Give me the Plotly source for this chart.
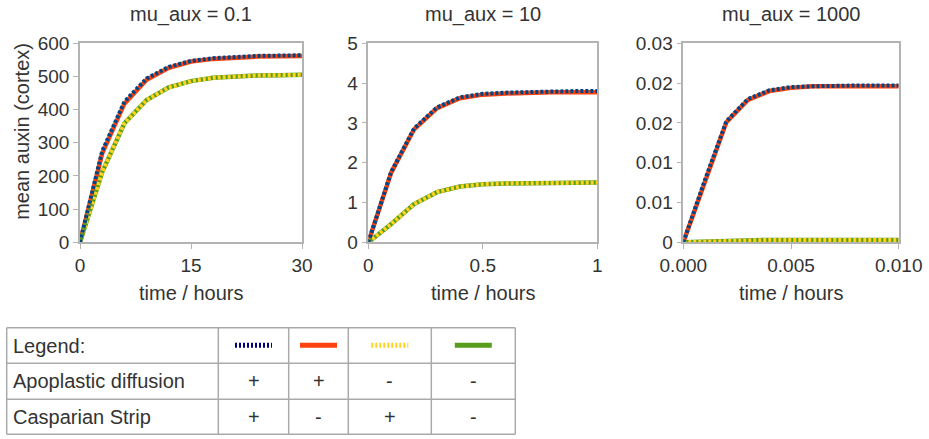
import plotly.graph_objects as go

W, H = 929, 439

# ---- data ----
t1 = [0, 3, 6, 9, 12, 15, 18, 21, 24, 27, 30]
blue1 = [0, 275, 424, 494, 529, 547, 555, 560, 562, 563, 564]
red1 = [0, 268, 418, 490, 526, 545, 553, 558, 560, 561, 562]
yellow1 = [0, 212, 359, 429, 467, 486, 496, 501, 503, 504, 505]
green1 = [0, 212, 359, 429, 467, 486, 496, 501, 503, 504, 505]

t2 = [0, 0.1, 0.2, 0.3, 0.4, 0.5, 0.6, 0.7, 0.8, 0.9, 1.0]
blue2 = [0, 1.77, 2.86, 3.39, 3.64, 3.73, 3.76, 3.78, 3.79, 3.80, 3.80]
red2 = [0, 1.75, 2.84, 3.37, 3.62, 3.71, 3.74, 3.76, 3.77, 3.77, 3.77]
yellow2 = [0, 0.46, 0.96, 1.26, 1.40, 1.46, 1.48, 1.49, 1.50, 1.50, 1.50]
green2 = [0, 0.46, 0.96, 1.26, 1.40, 1.46, 1.48, 1.49, 1.50, 1.50, 1.50]

t3 = [0, 0.001, 0.002, 0.003, 0.004, 0.005, 0.006, 0.007, 0.008, 0.009, 0.010]
blue3 = [0, 0.0078, 0.0152, 0.0180, 0.0191, 0.0195, 0.0196, 0.0197, 0.0197, 0.0197, 0.0197]
red3 = [0, 0.0077, 0.0151, 0.0179, 0.0190, 0.0194, 0.0196, 0.0196, 0.0196, 0.0196, 0.0196]
yellow3 = [0, 0.0001, 0.0002, 0.0002, 0.0003, 0.0003, 0.0003, 0.0003, 0.0003, 0.0003, 0.0003]
green3 = [0, 0.0001, 0.0002, 0.0002, 0.0003, 0.0003, 0.0003, 0.0003, 0.0003, 0.0003, 0.0003]

titles = ["mu_aux = 0.1", "mu_aux = 10", "mu_aux = 1000"]
y3_ticks = [0, 0.005, 0.01, 0.015, 0.02, 0.025]
y3_labels = ["0", "0.01", "0.01", "0.02", "0.02", "0.03"]

legend_rows = ["Legend:", "Apoplastic diffusion", "Casparian Strip"]
apo = ["+", "+", "-", "-"]
casp = ["+", "-", "+", "-"]

C_BLUE, C_RED, C_YEL, C_GRN = "#004586", "#ff420e", "#ffd320", "#579d1c"
TXT = "#333333"
FONT = "Liberation Sans"
FS = 20
TFS = 19

def px(x):
    return x / W

def py(y):
    return 1 - y / H

fig = go.Figure()

panels = [
    (t1, blue1, red1, yellow1, green1, 80, 302, [0, 30], [0, 600]),
    (t2, blue2, red2, yellow2, green2, 368.3, 597.3, [0, 1], [0, 5]),
    (t3, blue3, red3, yellow3, green3, 683.3, 898.7, [0, 0.01], [0, 0.025]),
]
top, bot = 43.3, 242.3

def note(text, x, y, size=FS, xanchor="center", angle=0):
    fig.add_annotation(text=text, x=px(x), y=py(y), xref="paper", yref="paper",
                       showarrow=False, xanchor=xanchor, yanchor="middle", textangle=angle,
                       font=dict(family=FONT, size=size, color=TXT))

for i, (t, b, r, yl, g, x0, x1, xr, yr) in enumerate(panels):
    k = "" if i == 0 else str(i + 1)
    xa, ya = "x" + k, "y" + k
    for vals, col, dash, w in [(r, C_RED, "solid", 4.5), (g, C_GRN, "solid", 4.5),
                               (yl, C_YEL, "3px,2px", 4), (b, C_BLUE, "3px,2px", 4)]:
        fig.add_trace(go.Scatter(x=t, y=vals, mode="lines", xaxis=xa, yaxis=ya,
                                 line=dict(color=col, width=w, dash=dash),
                                 showlegend=False, hoverinfo="skip"))
    axcommon = dict(showline=True, linecolor="#b3b3b3", linewidth=1.5, mirror=True,
                    ticks="outside", tickcolor="#b3b3b3", ticklen=5, showgrid=False,
                    zeroline=False, automargin=False,
                    tickfont=dict(family=FONT, size=TFS, color=TXT))
    xkw = dict(axcommon, domain=[px(x0), px(x1)], range=xr, anchor=ya)
    if i == 0:
        xkw.update(tickvals=[0, 15, 30])
    elif i == 1:
        xkw.update(tickvals=[0, 0.5, 1])
    else:
        xkw.update(tickvals=[0, 0.005, 0.01], tickformat=".3f")
    ykw = dict(axcommon, domain=[py(bot), py(top)], range=yr, anchor=xa)
    if i == 0:
        ykw.update(dtick=100)
    elif i == 1:
        ykw.update(dtick=1)
    else:
        ykw.update(tickvals=y3_ticks, ticktext=y3_labels)
    fig.layout["xaxis" + k] = xkw
    fig.layout["yaxis" + k] = ykw
    note(titles[i], (x0 + x1) / 2, 15)
    note("time / hours", (x0 + x1) / 2, 293)

note("mean auxin (cortex)", 22, (top + bot) / 2 - 11, angle=-90)

# ---- legend table ----
cols = [6.7, 218.3, 288.7, 348.3, 431.3, 515.3]
rows = [327.7, 363.3, 399.3, 434.3]
border = dict(color="#aaaaaa", width=1.5)
for cx in cols:
    fig.add_shape(type="line", xref="paper", yref="paper", x0=px(cx), x1=px(cx),
                  y0=py(rows[0]), y1=py(rows[-1]), line=border)
for ry in rows:
    fig.add_shape(type="line", xref="paper", yref="paper", x0=px(cols[0]), x1=px(cols[-1]),
                  y0=py(ry), y1=py(ry), line=border)

for j, lab in enumerate(legend_rows):
    note(lab, 11, (rows[j] + rows[j + 1]) / 2, xanchor="left")

sample = [("#000080", "2px,2px"), (C_RED, "solid"), (C_YEL, "2px,2px"), (C_GRN, "solid")]
ymid0 = 345.3
for c, (col, dash) in enumerate(sample):
    cx = (cols[c + 1] + cols[c + 2]) / 2
    fig.add_shape(type="line", xref="paper", yref="paper", x0=px(cx - 18.5), x1=px(cx + 18.5),
                  y0=py(ymid0), y1=py(ymid0), line=dict(color=col, width=5, dash=dash))
    for j, sym in enumerate([apo[c], casp[c]]):
        note(sym, cx, (rows[j + 1] + rows[j + 2]) / 2)

fig.update_layout(width=W, height=H, margin=dict(l=0, r=0, t=0, b=0),
                  paper_bgcolor="white", plot_bgcolor="white",
                  font=dict(family=FONT, color=TXT))
fig.write_html("out.html", config={"displayModeBar": False},
               post_script="document.body.style.margin='0';")
